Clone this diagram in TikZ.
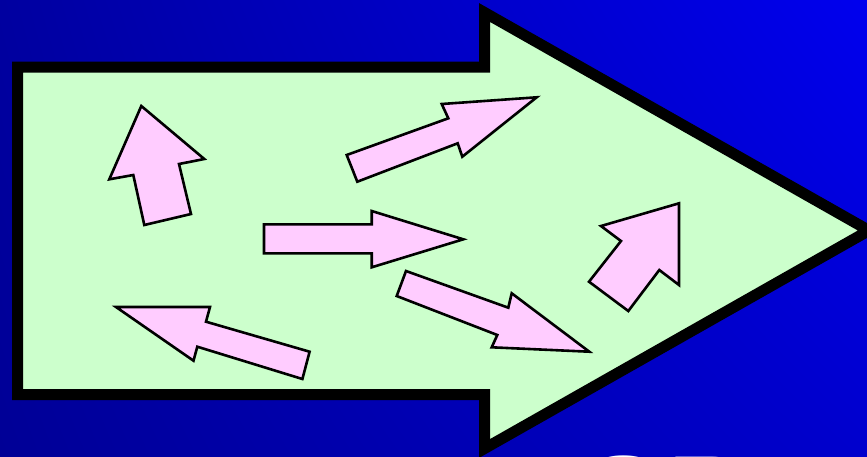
\documentclass[tikz,border=0pt]{standalone}
\usepackage{fontspec}
\usetikzlibrary{shadings}
\newfontfamily\titlefont{Liberation Sans}
\definecolor{bggreen}{HTML}{CCFFCC}
\definecolor{pinkfill}{HTML}{FFCCFF}
\definecolor{bgul}{RGB}{0,0,160}
\definecolor{bgur}{RGB}{0,0,238}
\definecolor{bgll}{RGB}{0,0,150}
\definecolor{bglr}{RGB}{0,0,205}
\begin{document}
\begin{tikzpicture}[x=1pt,y=-1pt,
  bigarrow/.style={draw=black,line width=11pt,fill=bggreen,line join=miter,miter limit=10},
  smallarrow/.style={draw=black,line width=2.6pt,fill=pinkfill,line join=miter,miter limit=10}]
\useasboundingbox (0,0) rectangle (867,456);
\clip (0,0) rectangle (867,456);
% background
\shade[upper left=bgul,upper right=bgur,lower left=bgll,lower right=bglr]
  (0,0) rectangle (867,456);
% big arrow
\draw[bigarrow] (17.5,67) -- (484.5,67) -- (484.5,12.5) -- (869,230.5) -- (484.5,448.5)
  -- (484.5,394.5) -- (17.5,394.5) -- cycle;
% small arrows
\draw[smallarrow] (141.3,106) -- (204.3,159) -- (179,164) -- (191,214) -- (144.3,225)
  -- (133.3,175) -- (109.3,179.3) -- cycle;
\draw[smallarrow] (346.7,155) -- (357.3,181.7) -- (457.7,143.3) -- (462.3,156.7)
  -- (536.7,97.3) -- (441.7,104) -- (448.3,118.3) -- cycle;
\draw[smallarrow] (264,224.3) -- (264,253.3) -- (371.7,253.3) -- (371.7,267.3)
  -- (463.3,239.3) -- (371.7,211) -- (371.7,224.3) -- cycle;
\draw[smallarrow] (679,203.3) -- (679,285) -- (659.3,270) -- (628.3,311) -- (589,281.7)
  -- (621,241) -- (601,226) -- cycle;
\draw[smallarrow] (406,271) -- (396.7,296) -- (497.3,335) -- (491.7,347.3) -- (589.3,351.7)
  -- (511.7,293.3) -- (508.3,307.7) -- cycle;
\draw[smallarrow] (116,307) -- (210,307) -- (206,321.7) -- (309.6,351.7) -- (302.4,379)
  -- (197.3,346.7) -- (193.5,360.7) -- cycle;
% cut-off title text
\node[anchor=base west,inner sep=0pt,text=white,font=\titlefont\fontsize{127}{127}\selectfont]
  (title) at (580.6,544.2) {SP};
\end{tikzpicture}
\end{document}
